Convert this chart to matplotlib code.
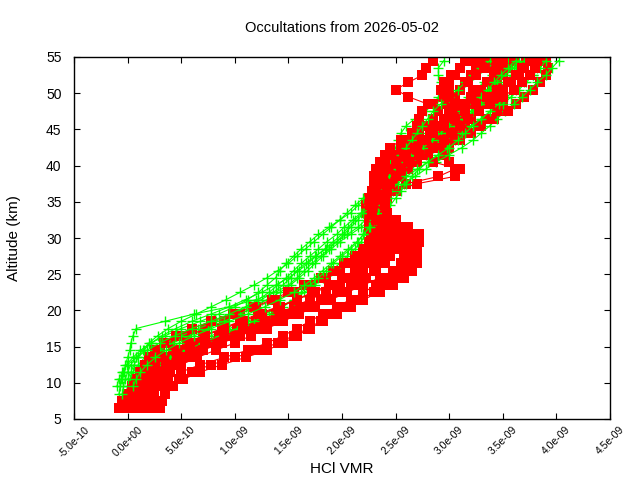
import numpy as np
import matplotlib
matplotlib.use("Agg")
import matplotlib.pyplot as plt
from matplotlib.ticker import FixedLocator, FuncFormatter

plt.rcParams['font.family'] = ['Liberation Sans', 'DejaVu Sans']

title = "Occultations from 2026-05-02"
xlabel = "HCl VMR"
ylabel = "Altitude (km)"
x_ticks = [-5e-10, 0.0, 5e-10, 1e-9, 1.5e-9, 2e-9, 2.5e-9, 3e-9, 3.5e-9, 4e-9, 4.5e-9]
y_ticks = [5, 10, 15, 20, 25, 30, 35, 40, 45, 50, 55]

# altitude grids (km)
red_alt = [6.5, 7.5, 8.5, 9.5, 10.5, 11.5, 12.5, 13.5, 14.5, 15.5, 16.5, 17.5, 18.5, 19.5,
           20.5, 21.5, 22.5, 23.5, 24.5, 25.5, 26.5, 27.5, 28.5, 29.5, 30.5, 31.5, 32.5,
           33.5, 34.5, 35.5, 36.5, 37.5, 38.5, 39.5, 40.5, 41.5, 42.5, 43.5, 44.5, 45.5,
           46.5, 47.5, 48.5, 49.5, 50.5, 51.5, 52.5, 53.5, 54.5]
green_alt = [8.5, 9.5, 10.5, 11.5, 12.5, 13.5, 14.5, 15.5, 16.5, 17.5, 18.5, 19.5,
             20.5, 21.5, 22.5, 23.5, 24.5, 25.5, 26.5, 27.5, 28.5, 29.5, 30.5, 31.5, 32.5,
             33.5, 34.5, 35.5, 36.5, 37.5, 38.5, 39.5, 40.5, 41.5, 42.5, 43.5, 44.5, 45.5,
             46.5, 47.5, 48.5, 49.5, 50.5, 51.5, 52.5, 53.5, 54.5]

# HCl VMR profiles, in units of 1e-9
red_1 = [-0.05, 0.0, 0.05, 0.08, 0.12, 0.15, 0.2, 0.25, 0.3, 0.4, 0.55, 0.72, 0.9, 1.05,
         1.2, 1.38, 1.55, 1.7, 1.85, 1.98, 2.1, 2.2, 2.26, 2.3, 2.3, 2.28, 2.27, 2.28, 2.3,
         2.32, 2.33, 2.35, 2.38, 2.42, 2.48, 2.55, 2.6, 2.66, 2.72, 2.78, 2.85, 2.9, 2.98,
         3.05, 3.1, 3.15, 3.2, 3.25, 3.3]
red_2 = [0.25, 0.3, 0.35, 0.42, 0.52, 0.68, 0.88, 1.1, 1.3, 1.45, 1.58, 1.7, 1.82, 1.95,
         2.08, 2.2, 2.35, 2.48, 2.58, 2.65, 2.7, 2.7, 2.68, 2.65, 2.6, 2.52, 2.45, 2.4, 2.38,
         2.4, 2.45, 2.6, 2.9, 3.05, 3.0, 2.95, 3.0, 3.1, 3.2, 3.3, 3.42, 3.52, 3.62, 3.7,
         3.78, 3.85, 3.9, 3.92, 3.9]
red_3 = [0.0, 0.05, 0.1, 0.15, 0.22, 0.3, 0.4, 0.52, 0.65, 0.8, 0.98, 1.15, 1.32, 1.5, 1.65,
         1.8, 1.95, 2.1, 2.22, 2.32, 2.4, 2.45, 2.48, 2.48, 2.45, 2.4, 2.35, 2.32, 2.3, 2.3,
         2.32, 2.36, 2.4, 2.45, 2.55, 2.65, 2.75, 2.82, 2.88, 2.92, 2.98, 3.05, 3.12, 3.2,
         3.3, 3.4, 3.5, 3.55, 3.6]
red_4 = [0.05, 0.1, 0.12, 0.15, 0.18, 0.22, 0.3, 0.4, 0.52, 0.68, 0.85, 1.02, 1.2, 1.38,
         1.55, 1.7, 1.85, 1.98, 2.1, 2.2, 2.28, 2.35, 2.4, 2.42, 2.38, 2.32, 2.25, 2.22, 2.22,
         2.25, 2.28, 2.3, 2.3, 2.32, 2.35, 2.4, 2.45, 2.55, 2.65, 2.75, 2.85, 2.9, 2.8, 2.62,
         2.5, 2.62, 2.75, 2.78, 2.85]
red_5 = [0.2, 0.22, 0.25, 0.3, 0.38, 0.5, 0.68, 0.9, 1.12, 1.3, 1.45, 1.58, 1.7, 1.82, 1.95,
         2.08, 2.2, 2.32, 2.42, 2.5, 2.55, 2.58, 2.55, 2.6, 2.65, 2.55, 2.42, 2.35, 2.32, 2.33,
         2.38, 2.45, 2.52, 2.6, 2.68, 2.78, 2.9, 3.0, 3.08, 3.15, 3.2, 3.25, 3.3, 3.35, 3.4,
         3.45, 3.5, 3.4, 3.35]
red_6 = [-0.08, -0.05, 0.0, 0.04, 0.08, 0.12, 0.16, 0.2, 0.26, 0.34, 0.45, 0.6, 0.78, 0.98,
         1.18, 1.35, 1.5, 1.65, 1.8, 1.92, 2.02, 2.12, 2.2, 2.25, 2.27, 2.25, 2.25, 2.25, 2.26,
         2.28, 2.3, 2.3, 2.32, 2.35, 2.4, 2.48, 2.55, 2.6, 2.65, 2.7, 2.72, 2.75, 2.85, 2.95,
         3.0, 3.0, 3.05, 3.1, 3.15]
red_7 = [0.1, 0.15, 0.2, 0.25, 0.32, 0.4, 0.5, 0.65, 0.82, 1.0, 1.15, 1.3, 1.45, 1.6, 1.75,
         1.9, 2.05, 2.2, 2.35, 2.48, 2.58, 2.62, 2.62, 2.68, 2.72, 2.62, 2.5, 2.42, 2.4, 2.42,
         2.5, 2.7, 3.05, 3.1, 2.85, 2.7, 2.75, 2.85, 2.95, 3.1, 3.35, 3.55, 3.5, 3.45, 3.5,
         3.58, 3.65, 3.7, 3.72]
red_8 = [0.02, 0.08, 0.1, 0.12, 0.16, 0.2, 0.26, 0.34, 0.45, 0.58, 0.72, 0.9, 1.08, 1.25,
         1.42, 1.58, 1.72, 1.88, 2.0, 2.12, 2.22, 2.3, 2.35, 2.4, 2.48, 2.45, 2.4, 2.38, 2.35,
         2.35, 2.38, 2.42, 2.45, 2.5, 2.6, 2.72, 2.8, 2.9, 3.0, 3.05, 3.1, 3.15, 3.2, 3.28,
         3.22, 3.18, 3.25, 3.32, 3.45]
red_9 = [0.15, 0.18, 0.2, 0.22, 0.26, 0.32, 0.42, 0.55, 0.7, 0.88, 1.05, 1.22, 1.38, 1.52,
         1.66, 1.8, 1.95, 2.08, 2.2, 2.3, 2.38, 2.45, 2.5, 2.55, 2.55, 2.5, 2.42, 2.38, 2.36,
         2.38, 2.42, 2.48, 2.55, 2.62, 2.7, 2.8, 2.92, 3.05, 3.18, 3.28, 3.38, 3.45, 3.42,
         3.35, 3.3, 3.35, 3.42, 3.48, 3.5]
red_10 = [-0.02, 0.02, 0.06, 0.1, 0.14, 0.18, 0.24, 0.32, 0.42, 0.55, 0.7, 0.88, 1.05, 1.22,
          1.4, 1.58, 1.75, 1.9, 2.02, 2.12, 2.2, 2.28, 2.34, 2.38, 2.4, 2.38, 2.35, 2.32, 2.3,
          2.3, 2.32, 2.35, 2.38, 2.42, 2.5, 2.6, 2.7, 2.78, 2.85, 2.95, 3.05, 3.15, 3.25,
          3.35, 3.45, 3.55, 3.62, 3.68, 3.75]
red_11 = [0.3, 0.32, 0.35, 0.4, 0.48, 0.6, 0.78, 1.0, 1.22, 1.4, 1.55, 1.68, 1.8, 1.92, 2.05,
          2.18, 2.3, 2.4, 2.5, 2.58, 2.62, 2.65, 2.7, 2.72, 2.7, 2.58, 2.48, 2.42, 2.4, 2.4,
          2.42, 2.45, 2.5, 2.55, 2.62, 2.72, 2.85, 2.95, 3.02, 3.1, 3.18, 3.28, 3.38, 3.5,
          3.6, 3.68, 3.75, 3.8, 3.82]
red_12 = [0.08, 0.1, 0.14, 0.18, 0.22, 0.28, 0.36, 0.46, 0.58, 0.72, 0.9, 1.08, 1.28, 1.48,
          1.68, 1.85, 2.0, 2.12, 2.22, 2.3, 2.35, 2.38, 2.42, 2.45, 2.42, 2.38, 2.32, 2.28,
          2.26, 2.26, 2.28, 2.32, 2.36, 2.42, 2.5, 2.58, 2.68, 2.75, 2.82, 2.88, 2.95, 3.0,
          3.05, 3.0, 2.92, 2.95, 3.02, 3.1, 3.2]

green_1 = [None, None, -0.05, -0.03, -0.02, 0.0, 0.02, 0.03, 0.05, 0.08, 0.35, 0.62, 0.95,
           1.2, 1.38, 1.5, 1.58, 1.65, 1.72, 1.8, 1.88, 1.95, 2.02, 2.08, 2.15, 2.2, 2.25,
           2.3, 2.35, 2.38, 2.42, 2.48, 2.55, 2.62, 2.7, 2.75, 2.8, 2.88, 2.95, 3.02, 3.1,
           3.18, 3.25, 3.32, 3.4, 3.48, 3.55]
green_2 = [-0.08, -0.07, -0.06, -0.04, -0.01, 0.05, 0.12, 0.22, 0.35, 0.5, 0.68, 0.85, 1.0,
           1.12, 1.22, 1.3, 1.38, 1.42, 1.48, 1.55, 1.62, 1.7, 1.78, 1.88, 1.98, 2.08, 2.15,
           2.22, 2.28, 2.33, 2.38, 2.42, 2.45, 2.48, 2.5, 2.52, 2.55, 2.6, 2.68, 2.78, 2.85,
           2.9, 2.92, 2.92, 2.9, 2.9, 2.95]
green_3 = [0.05, 0.08, 0.12, 0.18, 0.25, 0.35, 0.48, 0.62, 0.78, 0.95, 1.12, 1.28, 1.42,
           1.55, 1.65, 1.75, 1.82, 1.9, 1.98, 2.05, 2.12, 2.18, 2.22, 2.25, 2.3, 2.35, 2.4,
           2.42, 2.48, 2.58, 2.68, 2.78, 2.88, 3.0, 3.12, 3.22, 3.3, 3.38, 3.45, 3.52, 3.6,
           3.68, 3.75, 3.82, 3.9, 3.96, 4.02]
green_4 = [-0.02, 0.0, 0.02, 0.05, 0.1, 0.16, 0.25, 0.36, 0.5, 0.66, 0.82, 0.98, 1.12, 1.25,
           1.36, 1.45, 1.52, 1.58, 1.66, 1.75, 1.85, 1.95, 2.05, 2.15, 2.22, 2.28, 2.32, 2.36,
           2.4, 2.45, 2.5, 2.55, 2.6, 2.65, 2.7, 2.78, 2.88, 2.98, 3.05, 3.12, 3.2, 3.28,
           3.35, 3.42, 3.5, 3.58, 3.65]
green_5 = [0.0, 0.02, 0.05, 0.08, 0.12, 0.2, 0.3, 0.42, 0.58, 0.75, 0.9, 1.05, 1.18, 1.3,
           1.42, 1.52, 1.6, 1.68, 1.75, 1.82, 1.9, 1.98, 2.08, 2.18, 2.26, 2.32, 2.38, 2.42,
           2.45, 2.48, 2.52, 2.58, 2.65, 2.72, 2.8, 2.88, 2.95, 3.02, 3.1, 3.2, 3.3, 3.38,
           3.45, 3.52, 3.58, 3.62, 3.68]
green_6 = [None, -0.1, -0.08, -0.05, 0.0, 0.08, 0.18, 0.3, 0.44, 0.6, 0.78, 0.95, 1.1, 1.22,
           1.32, 1.4, 1.48, 1.55, 1.62, 1.7, 1.78, 1.86, 1.95, 2.02, 2.1, 2.18, 2.25, 2.32,
           2.38, 2.42, 2.46, 2.5, 2.52, 2.55, 2.6, 2.65, 2.7, 2.75, 2.8, 2.85, 2.92, 3.0,
           3.08, 3.15, 3.22, 3.3, 3.38]
green_7 = [0.1, 0.12, 0.15, 0.2, 0.28, 0.4, 0.55, 0.7, 0.86, 1.02, 1.18, 1.32, 1.45, 1.55,
           1.62, 1.7, 1.78, 1.85, 1.92, 2.0, 2.08, 2.15, 2.2, 2.26, 2.32, 2.38, 2.45, 2.5,
           2.55, 2.6, 2.65, 2.72, 2.8, 2.9, 2.98, 3.05, 3.12, 3.2, 3.3, 3.4, 3.5, 3.58, 3.65,
           3.72, 3.78, 3.82, 3.85]
green_8 = [None, None, 0.0, 0.03, 0.06, 0.1, 0.15, 0.22, 0.32, 0.45, 0.6, 0.78, 0.95, 1.1,
           1.25, 1.38, 1.5, 1.6, 1.68, 1.76, 1.84, 1.92, 2.0, 2.06, 2.12, 2.2, 2.28, 2.35,
           2.42, 2.5, 2.58, 2.65, 2.72, 2.78, 2.85, 2.92, 3.0, 3.08, 3.15, 3.22, 3.28, 3.32,
           3.38, 3.45, 3.52, 3.6, 3.7]
green_9 = [-0.05, -0.04, -0.02, 0.0, 0.03, 0.08, 0.14, 0.2, 0.28, 0.38, 0.5, 0.64, 0.78,
           0.92, 1.05, 1.18, 1.3, 1.4, 1.5, 1.58, 1.66, 1.74, 1.82, 1.9, 1.98, 2.05, 2.12,
           2.2, 2.28, 2.36, 2.44, 2.52, 2.6, 2.68, 2.76, 2.84, 2.92, 3.0, 3.08, 3.16, 3.24,
           3.3, 3.36, 3.42, 3.48, 3.55, 3.62]
green_10 = [None, 0.05, 0.08, 0.12, 0.18, 0.26, 0.36, 0.48, 0.62, 0.78, 0.95, 1.12, 1.28,
            1.42, 1.55, 1.65, 1.74, 1.82, 1.9, 1.98, 2.06, 2.14, 2.2, 2.25, 2.3, 2.34, 2.38,
            2.42, 2.46, 2.52, 2.6, 2.7, 2.8, 2.9, 3.0, 3.08, 3.15, 3.22, 3.3, 3.38, 3.46,
            3.54, 3.62, 3.7, 3.78, 3.85, 3.9]

red_profiles = [red_1, red_2, red_3, red_4, red_5, red_6, red_7, red_8, red_9, red_10,
                red_11, red_12]
green_profiles = [green_1, green_2, green_3, green_4, green_5, green_6, green_7, green_8,
                  green_9, green_10]
VMR_UNIT = 1e-9

fig = plt.figure(figsize=(6.4, 4.8), dpi=100)
ax = fig.add_axes([74 / 640, 61 / 480, 536 / 640, 362 / 480])

n = max(len(red_profiles), len(green_profiles))
for i in range(n):
    if i < len(red_profiles):
        rv = np.array(red_profiles[i], dtype=float) * VMR_UNIT
        ax.plot(rv, red_alt, color='#ff0000', lw=0.8, marker='s', ms=6.5,
                mec='#ff0000', mfc='#ff0000', mew=0)
    if i < len(green_profiles):
        gv = np.array(green_profiles[i], dtype=float) * VMR_UNIT
        ax.plot(gv, green_alt, color='#00ff00', lw=0.8, marker='+', ms=6.5,
                mec='#00ff00', mew=1.0)

ax.set_xlim(-5e-10, 4.5e-9)
ax.set_ylim(5, 55)
ax.xaxis.set_major_locator(FixedLocator(x_ticks))
ax.yaxis.set_major_locator(FixedLocator(y_ticks))
ax.xaxis.set_major_formatter(FuncFormatter(lambda v, p: ("%.1e" % v).replace("-0.0e", "0.0e")))
ax.tick_params(direction='in', length=4, width=0.8, top=True, right=True, colors='black')
ax.tick_params(axis='y', labelsize=10, pad=9)
ax.tick_params(axis='x', labelsize=7.5, pad=4)
for lab in ax.get_xticklabels():
    lab.set_rotation(45)
    lab.set_ha('center')
    lab.set_va('top')
for s in ax.spines.values():
    s.set_linewidth(1.0)

ax.set_xlabel(xlabel, fontsize=11, labelpad=2)
ax.set_ylabel(ylabel, fontsize=11, labelpad=18)
ax.set_title(title, fontsize=10.5, pad=18)

fig.savefig("out.png", dpi=100)
